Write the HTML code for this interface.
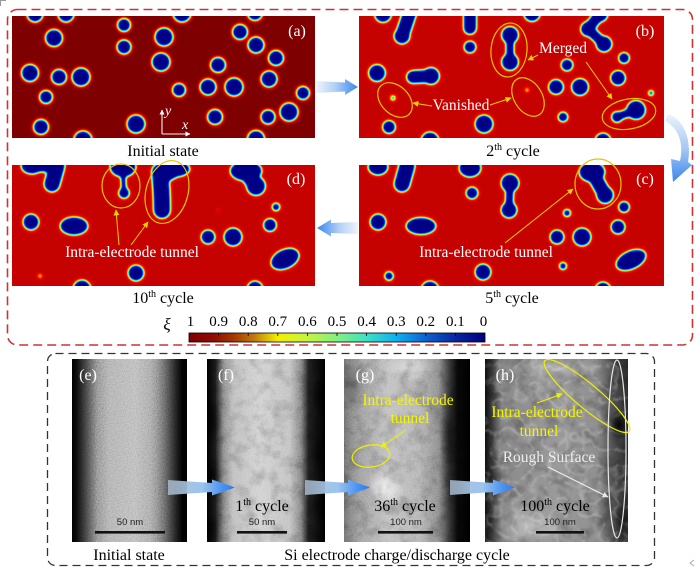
<!DOCTYPE html>
<html><head><meta charset="utf-8"><style>
html,body{margin:0;padding:0;background:#fff;}
svg{display:block;}
text{font-family:"Liberation Serif","DejaVu Serif",serif;}
</style></head><body>
<svg xmlns="http://www.w3.org/2000/svg" width="700" height="580" viewBox="0 0 700 580">
<defs>
<filter id="jetA" color-interpolation-filters="sRGB" x="-5%" y="-5%" width="110%" height="110%">
<feGaussianBlur stdDeviation="1.9"/>
<feComponentTransfer>
<feFuncR type="table" tableValues="0 0 0 0 0 0.45 1 1 1 0.8 0.5"/>
<feFuncG type="table" tableValues="0 0 0.05 0.45 0.9 1 0.95 0.55 0.12 0 0"/>
<feFuncB type="table" tableValues="0.52 0.58 0.8 1 1 0.5 0 0 0 0 0"/>
</feComponentTransfer>
</filter>
<filter id="jetB" color-interpolation-filters="sRGB" x="-5%" y="-5%" width="110%" height="110%">
<feGaussianBlur stdDeviation="1.9"/>
<feComponentTransfer>
<feFuncR type="table" tableValues="0 0 0 0 0 0.45 1 1 1 0.9 0.78"/>
<feFuncG type="table" tableValues="0 0 0.05 0.45 0.9 1 0.95 0.55 0.12 0.02 0.01"/>
<feFuncB type="table" tableValues="0.52 0.58 0.8 1 1 0.5 0 0 0 0 0"/>
</feComponentTransfer>
</filter>
<clipPath id="cpA"><rect x="12" y="16" width="303" height="122"/></clipPath>
<clipPath id="cpB"><rect x="359" y="16" width="305" height="122"/></clipPath>
<clipPath id="cpD"><rect x="12" y="165" width="303" height="121"/></clipPath>
<clipPath id="cpC"><rect x="359" y="165" width="305" height="121"/></clipPath>
<clipPath id="cpE"><rect x="72" y="359" width="115" height="183"/></clipPath>
<clipPath id="cpF"><rect x="207" y="359" width="118" height="183"/></clipPath>
<clipPath id="cpG"><rect x="344" y="359" width="126" height="183"/></clipPath>
<clipPath id="cpH"><rect x="485" y="359" width="143" height="183"/></clipPath>

<linearGradient id="cbar" x1="0" y1="0" x2="1" y2="0">
<stop offset="0" stop-color="#7f0000"/>
<stop offset="0.08" stop-color="#8e0c00"/>
<stop offset="0.15" stop-color="#a43800"/>
<stop offset="0.22" stop-color="#c07a10"/>
<stop offset="0.3" stop-color="#f2f000"/>
<stop offset="0.4" stop-color="#c4f440"/>
<stop offset="0.5" stop-color="#84f080"/>
<stop offset="0.6" stop-color="#40e0c0"/>
<stop offset="0.7" stop-color="#10b0f0"/>
<stop offset="0.8" stop-color="#1060d0"/>
<stop offset="0.9" stop-color="#0828a0"/>
<stop offset="1" stop-color="#000080"/>
</linearGradient>
<linearGradient id="arR" x1="0" y1="0" x2="1" y2="0">
<stop offset="0" stop-color="#eef4fc"/>
<stop offset="0.45" stop-color="#b4d0f4"/>
<stop offset="0.75" stop-color="#6ea8f2"/>
<stop offset="1" stop-color="#3a86ee"/>
</linearGradient>
<linearGradient id="arL" x1="1" y1="0" x2="0" y2="0">
<stop offset="0" stop-color="#eef4fc"/>
<stop offset="0.45" stop-color="#b4d0f4"/>
<stop offset="0.75" stop-color="#6ea8f2"/>
<stop offset="1" stop-color="#3a86ee"/>
</linearGradient>
<linearGradient id="arD" x1="0" y1="0" x2="0" y2="1">
<stop offset="0" stop-color="#eef4fc"/>
<stop offset="0.5" stop-color="#a8c8f2"/>
<stop offset="1" stop-color="#3a86ee"/>
</linearGradient>
<linearGradient id="arT" x1="0" y1="0" x2="1" y2="0">
<stop offset="0" stop-color="#a8b8c8" stop-opacity="0.85"/>
<stop offset="0.5" stop-color="#9cc4f0"/>
<stop offset="0.8" stop-color="#4c94f2"/>
<stop offset="1" stop-color="#2a78f0"/>
</linearGradient>

<linearGradient id="gE" x1="0" y1="0" x2="1" y2="0">
<stop offset="0" stop-color="#000"/>
<stop offset="0.04" stop-color="#0a0a0a"/>
<stop offset="0.12" stop-color="#3c3c3c"/>
<stop offset="0.22" stop-color="#808080"/>
<stop offset="0.32" stop-color="#a4a4a4"/>
<stop offset="0.55" stop-color="#b0b0b0"/>
<stop offset="0.68" stop-color="#9c9c9c"/>
<stop offset="0.8" stop-color="#606060"/>
<stop offset="0.9" stop-color="#202020"/>
<stop offset="0.96" stop-color="#000"/>
</linearGradient>
<linearGradient id="gF" x1="0" y1="0" x2="1" y2="0">
<stop offset="0" stop-color="#000"/>
<stop offset="0.07" stop-color="#181818"/>
<stop offset="0.14" stop-color="#808080"/>
<stop offset="0.22" stop-color="#b8b8b8"/>
<stop offset="0.45" stop-color="#cccccc"/>
<stop offset="0.7" stop-color="#bcbcbc"/>
<stop offset="0.8" stop-color="#787878"/>
<stop offset="0.86" stop-color="#1c1c1c"/>
<stop offset="1" stop-color="#000"/>
</linearGradient>
<linearGradient id="gG" x1="0" y1="0" x2="1" y2="0">
<stop offset="0" stop-color="#6a6a6a"/>
<stop offset="0.12" stop-color="#989898"/>
<stop offset="0.35" stop-color="#bcbcbc"/>
<stop offset="0.6" stop-color="#b0b0b0"/>
<stop offset="0.75" stop-color="#848484"/>
<stop offset="0.84" stop-color="#303030"/>
<stop offset="0.9" stop-color="#080808"/>
<stop offset="1" stop-color="#000"/>
</linearGradient>
<linearGradient id="gH" x1="0" y1="0" x2="1" y2="0">
<stop offset="0" stop-color="#101010"/>
<stop offset="0.05" stop-color="#3a3a3a"/>
<stop offset="0.12" stop-color="#8a8a8a"/>
<stop offset="0.5" stop-color="#9a9a9a"/>
<stop offset="0.78" stop-color="#909090"/>
<stop offset="0.86" stop-color="#606060"/>
<stop offset="0.93" stop-color="#444444"/>
<stop offset="1" stop-color="#2e2e2e"/>
</linearGradient>
<radialGradient id="wh" cx="0.5" cy="0.5" r="0.5">
<stop offset="0" stop-color="#fff" stop-opacity="0.95"/>
<stop offset="1" stop-color="#fff" stop-opacity="0"/>
</radialGradient>
<radialGradient id="bk" cx="0.5" cy="0.5" r="0.5">
<stop offset="0" stop-color="#000" stop-opacity="0.9"/>
<stop offset="1" stop-color="#000" stop-opacity="0"/>
</radialGradient>

<filter id="grain" x="0" y="0" width="100%" height="100%">
<feTurbulence type="fractalNoise" baseFrequency="0.85" numOctaves="1" seed="3"/>
<feColorMatrix type="matrix" values="1 0 0 0 0  1 0 0 0 0  1 0 0 0 0  0 0 0 0 1"/>
</filter>
<filter id="mottle" x="0" y="0" width="100%" height="100%">
<feTurbulence type="fractalNoise" baseFrequency="0.07" numOctaves="3" seed="7"/>
<feColorMatrix type="matrix" values="0 0 0 0 0  0 0 0 0 0  0 0 0 0 0  2.4 0 0 0 -1.05"/>
</filter>
<filter id="veins" x="0" y="0" width="100%" height="100%">
<feTurbulence type="turbulence" baseFrequency="0.06" numOctaves="2" seed="11"/>
<feColorMatrix type="matrix" values="0 0 0 0 1  0 0 0 0 1  0 0 0 0 1  -3 0 0 0 0.75"/>
</filter>

<marker id="my" viewBox="0 0 10 10" refX="9" refY="5" markerWidth="6" markerHeight="6" orient="auto" markerUnits="userSpaceOnUse"><path d="M0,0 L10,5 L0,10 z" fill="#f0d000"/></marker>
<marker id="myy" viewBox="0 0 10 10" refX="9" refY="5" markerWidth="6" markerHeight="6" orient="auto" markerUnits="userSpaceOnUse"><path d="M0,0 L10,5 L0,10 z" fill="#f0f000"/></marker>
<marker id="mw" viewBox="0 0 10 10" refX="9" refY="5" markerWidth="6" markerHeight="6" orient="auto" markerUnits="userSpaceOnUse"><path d="M0,0 L10,5 L0,10 z" fill="#e8e8e8"/></marker>
<marker id="mwa" viewBox="0 0 10 10" refX="9" refY="5" markerWidth="5" markerHeight="5" orient="auto" markerUnits="userSpaceOnUse"><path d="M0,0 L10,5 L0,10 z" fill="#fff"/></marker>
</defs>

<!-- corner marks -->
<path d="M0.5 6 V0.5 H6" fill="none" stroke="#999" stroke-width="1"/>
<path d="M694 560 l-4 3 l4 3" fill="none" stroke="#aaa" stroke-width="1"/>

<!-- red dashed frame -->
<rect x="7.5" y="9.5" width="685" height="335.5" rx="10" fill="none" stroke="#cc3333" stroke-width="1.6" stroke-dasharray="9 5"/>

<!-- Panel (a) -->
<g clip-path="url(#cpA)">
<g filter="url(#jetA)">
<rect x="2" y="6" width="324" height="142" fill="#fff"/>
<g fill="#000">
<circle cx="35" cy="14" r="8"/><circle cx="66" cy="14" r="8"/><circle cx="54" cy="38" r="8.5"/>
<circle cx="124" cy="25" r="6.5"/><circle cx="124" cy="47" r="7"/><circle cx="164" cy="37" r="9"/>
<circle cx="182" cy="13" r="9"/><circle cx="161" cy="62" r="9"/><circle cx="240" cy="32" r="7.5"/>
<circle cx="255" cy="13" r="7.5"/><circle cx="256" cy="45" r="8"/><circle cx="276" cy="58" r="7.5"/>
<circle cx="30" cy="73" r="8.5"/><circle cx="59" cy="77" r="7.5"/><circle cx="81" cy="77" r="9"/>
<circle cx="46" cy="97" r="6.5"/><circle cx="179" cy="90" r="6.5"/><circle cx="218" cy="65" r="7.5"/>
<circle cx="208" cy="87" r="8"/><circle cx="234" cy="87" r="9"/><circle cx="269" cy="79" r="8"/>
<circle cx="303" cy="93" r="6.5"/><circle cx="289" cy="112" r="9"/><circle cx="268" cy="117" r="7"/>
<circle cx="215" cy="117" r="7.5"/><circle cx="136" cy="124" r="9"/><circle cx="41" cy="127" r="7.5"/>
<circle cx="83" cy="140" r="9"/><circle cx="256" cy="139" r="8.5"/>
</g>
</g>
</g>
<g stroke="#f4f4f4" stroke-width="1.1" fill="none">
<line x1="162" y1="134" x2="162" y2="110" marker-end="url(#mwa)"/>
<line x1="162" y1="134" x2="190" y2="134" marker-end="url(#mwa)"/>
</g>
<text x="165" y="115" font-size="14" font-style="italic" fill="#fff">y</text>
<text x="182" y="129" font-size="14" font-style="italic" fill="#fff">x</text>
<text x="297" y="36" font-size="16" fill="#fff" text-anchor="middle">(a)</text>
<text x="163" y="156" font-size="16" fill="#000" text-anchor="middle">Initial state</text>

<!-- Panel (b) -->
<g clip-path="url(#cpB)">
<g filter="url(#jetB)">
<rect x="349" y="6" width="326" height="142" fill="#fff"/>
<g fill="#000" stroke="#000" stroke-linecap="round">
<circle cx="383" cy="14" r="8.5" stroke="none"/>
<line x1="410" y1="12" x2="402" y2="36" stroke-width="14"/><circle cx="402" cy="36" r="8" stroke="none"/>
<line x1="470" y1="10" x2="470" y2="28" stroke-width="13"/>
<circle cx="470" cy="47" r="6" stroke="none"/>
<circle cx="510" cy="35" r="8.5" stroke="none"/><circle cx="510" cy="62" r="8.5" stroke="none"/>
<line x1="510" y1="35" x2="510" y2="62" stroke-width="8"/>
<circle cx="532" cy="13" r="8.5" stroke="none"/>
<circle cx="600" cy="14" r="8" stroke="none"/><circle cx="588" cy="29" r="7.5" stroke="none"/><circle cx="604" cy="44" r="8" stroke="none"/>
<line x1="600" y1="14" x2="588" y2="29" stroke-width="11"/><line x1="588" y1="29" x2="604" y2="44" stroke-width="10"/>
<circle cx="567" cy="65" r="6" stroke="none"/>
<circle cx="624" cy="58" r="5.5" stroke="none"/>
<circle cx="377" cy="73" r="8.5" stroke="none"/>
<line x1="413" y1="77" x2="431" y2="76" stroke-width="13"/><circle cx="431" cy="76" r="8.5" stroke="none"/>
<circle cx="556" cy="87" r="7.5" stroke="none"/><circle cx="580" cy="87" r="8.5" stroke="none"/>
<circle cx="618" cy="78" r="7.5" stroke="none"/>
<circle cx="651" cy="93" r="2.8" stroke="none"/>
<circle cx="617" cy="117" r="5.5" stroke="none"/><circle cx="636" cy="110" r="9.5" stroke="none"/>
<line x1="617" y1="117" x2="636" y2="110" stroke-width="8"/>
<circle cx="563" cy="117" r="5" stroke="none"/>
<circle cx="389" cy="127" r="6.5" stroke="none"/>
<circle cx="484" cy="124" r="9" stroke="none"/>
<circle cx="430" cy="141" r="9" stroke="none"/>
<circle cx="603" cy="141" r="8" stroke="none"/>
<circle cx="393" cy="98" r="2.4" stroke="none"/>
<circle cx="527" cy="90" r="1.6" stroke="none"/>
</g>
</g>
</g>
<g fill="none" stroke="#e8c400" stroke-width="1.2">
<ellipse cx="509" cy="50" rx="18" ry="27" transform="rotate(5 509 50)"/>
<ellipse cx="395" cy="100" rx="20" ry="14" transform="rotate(45 395 100)"/>
<ellipse cx="528" cy="97" rx="21" ry="14" transform="rotate(58 528 97)"/>
<ellipse cx="629" cy="114" rx="27" ry="15" transform="rotate(-10 629 114)"/>
</g>
<g stroke="#f0d000" stroke-width="1" fill="none">
<line x1="538" y1="55" x2="528" y2="60" marker-end="url(#my)"/>
<line x1="586" y1="62" x2="612" y2="99" marker-end="url(#my)"/>
<line x1="432" y1="106" x2="413" y2="103" marker-end="url(#my)"/>
<line x1="490" y1="105" x2="511" y2="98" marker-end="url(#my)"/>
</g>
<text x="563" y="53" font-size="15.5" fill="#fff" text-anchor="middle">Merged</text>
<text x="461" y="110" font-size="15.5" fill="#fff" text-anchor="middle">Vanished</text>
<text x="645" y="36" font-size="16" fill="#fff" text-anchor="middle">(b)</text>
<text x="513" y="156" font-size="16" fill="#000" text-anchor="middle">2<tspan font-size="10" dy="-6">th</tspan><tspan dy="6"> cycle</tspan></text>

<!-- Panel (d) -->
<g clip-path="url(#cpD)">
<g filter="url(#jetB)">
<rect x="2" y="155" width="324" height="142" fill="#fff"/>
<g fill="#000" stroke="#000" stroke-linecap="round">
<ellipse cx="32" cy="166" rx="11" ry="8" stroke="none"/>
<line x1="57" y1="166" x2="52" y2="184" stroke-width="16"/>
<line x1="32" y1="166" x2="57" y2="166" stroke-width="12"/>
<ellipse cx="123" cy="167" rx="13" ry="10" stroke="none"/>
<circle cx="124" cy="193" r="5.5" stroke="none"/>
<line x1="123" y1="172" x2="124" y2="192" stroke-width="5"/>
<ellipse cx="175" cy="169" rx="15" ry="8" stroke="none"/>
<path d="M160 172 Q162 192 162 210" stroke-width="17" fill="none"/>
<line x1="172" y1="172" x2="160" y2="178" stroke-width="14"/>
<ellipse cx="246" cy="171" rx="16" ry="10" stroke="none"/>
<circle cx="256" cy="186" r="9.5" stroke="none"/>
<line x1="246" y1="171" x2="256" y2="186" stroke-width="16"/>
<circle cx="276" cy="207" r="4" stroke="none"/>
<circle cx="270" cy="225" r="6.5" stroke="none"/>
<circle cx="31" cy="222" r="8" stroke="none"/>
<ellipse cx="74" cy="226" rx="14" ry="9" stroke="none"/>
<circle cx="208" cy="237" r="7" stroke="none"/><circle cx="233" cy="237" r="9" stroke="none"/>
<ellipse cx="285" cy="259" rx="15" ry="9.5" transform="rotate(-25 285 259)" stroke="none"/>
<circle cx="136" cy="273" r="8" stroke="none"/>
<circle cx="40" cy="276" r="1.6" stroke="none"/>
<circle cx="82" cy="289" r="9" stroke="none"/>
<circle cx="255" cy="289" r="8" stroke="none"/>
<circle cx="218" cy="210" r="0.8" stroke="none"/>
</g>
</g>
</g>
<g fill="none" stroke="#e8c400" stroke-width="1.2">
<ellipse cx="121" cy="186" rx="19" ry="22"/>
<ellipse cx="167" cy="192" rx="21" ry="32" transform="rotate(15 167 192)"/>
</g>
<g stroke="#f0d000" stroke-width="1" fill="none">
<line x1="119" y1="245" x2="116" y2="210" marker-end="url(#my)"/>
<line x1="131" y1="245" x2="148" y2="222" marker-end="url(#my)"/>
</g>
<text x="132" y="257" font-size="15.5" fill="#fff" text-anchor="middle">Intra-electrode tunnel</text>
<text x="296" y="184" font-size="16" fill="#fff" text-anchor="middle">(d)</text>
<text x="163" y="303" font-size="16" fill="#000" text-anchor="middle">10<tspan font-size="10" dy="-6">th</tspan><tspan dy="6"> cycle</tspan></text>

<!-- Panel (c) -->
<g clip-path="url(#cpC)">
<g filter="url(#jetB)">
<rect x="349" y="155" width="326" height="142" fill="#fff"/>
<g fill="#000" stroke="#000" stroke-linecap="round">
<ellipse cx="378" cy="167" rx="10" ry="8" stroke="none"/>
<line x1="407" y1="166" x2="402" y2="184" stroke-width="16"/>
<ellipse cx="470" cy="168" rx="11" ry="9" stroke="none"/>
<circle cx="472" cy="193" r="6" stroke="none"/>
<circle cx="510" cy="183" r="9" stroke="none"/><circle cx="509" cy="210" r="8" stroke="none"/>
<line x1="510" y1="183" x2="509" y2="210" stroke-width="8"/>
<ellipse cx="592" cy="172" rx="13" ry="10" stroke="none"/>
<circle cx="605" cy="195" r="8.5" stroke="none"/>
<line x1="592" y1="172" x2="605" y2="195" stroke-width="14"/>
<circle cx="567" cy="213" r="3.8" stroke="none"/>
<circle cx="624" cy="207" r="5.5" stroke="none"/>
<circle cx="618" cy="227" r="7" stroke="none"/>
<circle cx="378" cy="222" r="8" stroke="none"/>
<ellipse cx="421" cy="226" rx="15" ry="8.5" stroke="none"/>
<circle cx="557" cy="237" r="7" stroke="none"/><circle cx="582" cy="237" r="9" stroke="none"/>
<ellipse cx="631" cy="260" rx="16" ry="9" transform="rotate(-25 631 260)" stroke="none"/>
<circle cx="563" cy="266" r="3.8" stroke="none"/>
<circle cx="483" cy="272" r="8" stroke="none"/>
<circle cx="389" cy="276" r="4.5" stroke="none"/>
<circle cx="430" cy="290" r="9" stroke="none"/>
<circle cx="603" cy="290" r="8" stroke="none"/>
</g>
</g>
</g>
<ellipse cx="598" cy="184" rx="23" ry="25" fill="none" stroke="#e8c400" stroke-width="1.2"/>
<line x1="505" y1="243" x2="573" y2="189" stroke="#f0d000" stroke-width="1" marker-end="url(#my)"/>
<text x="486" y="257" font-size="15.5" fill="#fff" text-anchor="middle">Intra-electrode tunnel</text>
<text x="645" y="184" font-size="16" fill="#fff" text-anchor="middle">(c)</text>
<text x="512" y="303" font-size="16" fill="#000" text-anchor="middle">5<tspan font-size="10" dy="-6">th</tspan><tspan dy="6"> cycle</tspan></text>

<!-- top arrows -->
<polygon points="316,81 345,82.5 345,79 358,87 345,95 345,91.5 316,93" fill="url(#arR)"/>
<polygon points="358,222 331,223 331,219.5 317,228 331,236.5 331,233 358,234" fill="url(#arL)"/>
<path d="M668 114 C683 119, 692 138, 688 162 L692 165 L673 182 L671 159 L680 161 C684 142, 678 128, 665 121 Z" fill="url(#arD)"/>

<!-- colorbar -->
<text x="167" y="330" font-size="17" font-style="italic" fill="#000" text-anchor="middle">ξ</text>
<rect x="189" y="333" width="296" height="9" fill="url(#cbar)" stroke="#000" stroke-width="0.8"/>
<g stroke="#000" stroke-width="0.8">
<line x1="218.6" y1="333" x2="218.6" y2="336"/><line x1="248.2" y1="333" x2="248.2" y2="336"/>
<line x1="277.8" y1="333" x2="277.8" y2="336"/><line x1="307.4" y1="333" x2="307.4" y2="336"/>
<line x1="337" y1="333" x2="337" y2="336"/><line x1="366.6" y1="333" x2="366.6" y2="336"/>
<line x1="396.2" y1="333" x2="396.2" y2="336"/><line x1="425.8" y1="333" x2="425.8" y2="336"/>
<line x1="455.4" y1="333" x2="455.4" y2="336"/>
</g>
<g font-size="15" fill="#000" text-anchor="middle">
<text x="190.5" y="326">1</text><text x="218.6" y="326">0.9</text><text x="248.2" y="326">0.8</text>
<text x="277.8" y="326">0.7</text><text x="307.4" y="326">0.6</text><text x="337" y="326">0.5</text>
<text x="366.6" y="326">0.4</text><text x="396.2" y="326">0.3</text><text x="425.8" y="326">0.2</text>
<text x="455.4" y="326">0.1</text><text x="483.5" y="326">0</text>
</g>

<!-- black dashed frame -->
<rect x="47.5" y="353.5" width="607" height="212" rx="8" fill="none" stroke="#333" stroke-width="1.3" stroke-dasharray="8 5"/>

<!-- TEM (e) -->
<g clip-path="url(#cpE)">
<rect x="72" y="359" width="115" height="183" fill="url(#gE)"/>
<rect x="72" y="359" width="115" height="183" filter="url(#grain)" opacity="0.5" style="mix-blend-mode:overlay"/>
</g>
<!-- TEM (f) -->
<g clip-path="url(#cpF)">
<rect x="207" y="359" width="118" height="183" fill="url(#gF)"/>
<g fill="url(#bk)" opacity="0.7">
<ellipse cx="210" cy="420" rx="12" ry="20"/><ellipse cx="211" cy="475" rx="10" ry="18"/><ellipse cx="209" cy="530" rx="11" ry="16"/>
<ellipse cx="322" cy="395" rx="10" ry="22"/><ellipse cx="320" cy="455" rx="9" ry="18"/><ellipse cx="323" cy="510" rx="10" ry="20"/>
</g>
<rect x="207" y="359" width="118" height="183" filter="url(#mottle)" opacity="0.22"/>
<rect x="207" y="359" width="118" height="183" filter="url(#grain)" opacity="0.35" style="mix-blend-mode:overlay"/>
</g>
<!-- TEM (g) -->
<g clip-path="url(#cpG)">
<rect x="344" y="359" width="126" height="183" fill="url(#gG)"/>
<ellipse cx="410" cy="368" rx="25" ry="14" fill="url(#wh)" opacity="0.5"/>
<ellipse cx="385" cy="488" rx="20" ry="18" fill="url(#wh)" opacity="0.85"/>
<ellipse cx="355" cy="385" rx="14" ry="30" fill="url(#bk)" opacity="0.3"/>
<ellipse cx="450" cy="440" rx="10" ry="60" fill="url(#bk)" opacity="0.5"/>
<rect x="344" y="359" width="126" height="183" filter="url(#mottle)" opacity="0.25"/>
<rect x="344" y="359" width="126" height="183" filter="url(#grain)" opacity="0.3" style="mix-blend-mode:overlay"/>
</g>
<!-- TEM (h) -->
<g clip-path="url(#cpH)">
<rect x="485" y="359" width="143" height="183" fill="url(#gH)"/>
<rect x="485" y="359" width="143" height="183" filter="url(#mottle)" opacity="0.25"/>
<rect x="485" y="359" width="143" height="183" filter="url(#veins)" opacity="0.3"/>
<ellipse cx="560" cy="368" rx="40" ry="10" fill="url(#wh)" opacity="0.3"/>
<ellipse cx="530" cy="525" rx="35" ry="20" fill="url(#wh)" opacity="0.45"/>
<ellipse cx="619" cy="425" rx="10" ry="16" fill="url(#bk)"/>
<ellipse cx="622" cy="520" rx="9" ry="22" fill="url(#bk)" opacity="0.6"/>
</g>

<!-- TEM labels -->
<g font-size="16" fill="#fff" text-anchor="middle">
<text x="88" y="380">(e)</text><text x="226" y="380">(f)</text>
<text x="365" y="380">(g)</text><text x="505" y="380">(h)</text>
</g>
<!-- scale bars -->
<g fill="#111">
<rect x="95" y="531" width="70" height="2.6"/>
<rect x="237" y="531" width="50" height="2.6"/>
<rect x="378" y="531" width="55" height="2.6"/>
<rect x="536" y="531" width="48" height="2.6"/>
</g>
<g font-size="9.5" fill="#222" text-anchor="middle" style="font-family:'Liberation Sans',Arial,sans-serif">
<text x="130" y="525" style="font-family:'Liberation Sans',sans-serif">50 nm</text>
<text x="262" y="525" style="font-family:'Liberation Sans',sans-serif">50 nm</text>
<text x="406" y="525" style="font-family:'Liberation Sans',sans-serif">100 nm</text>
<text x="560" y="525" style="font-family:'Liberation Sans',sans-serif">100 nm</text>
</g>

<!-- bottom arrows -->
<polygon points="168,480 212,483 212,479.5 235,487.5 212,495.5 212,492 168,495" fill="url(#arT)"/>
<polygon points="305,480 348,483 348,479.5 370,487.5 348,495.5 348,492 305,495" fill="url(#arT)"/>
<polygon points="450,480 493,483 493,479.5 515,487.5 493,495.5 493,492 450,495" fill="url(#arT)"/>

<!-- cycle labels in TEM -->
<g font-size="16" fill="#000" text-anchor="middle">
<text x="262" y="511">1<tspan font-size="10" dy="-6">th</tspan><tspan dy="6"> cycle</tspan></text>
<text x="405" y="511">36<tspan font-size="10" dy="-6">th</tspan><tspan dy="6"> cycle</tspan></text>
<text x="555" y="511">100<tspan font-size="10" dy="-6">th</tspan><tspan dy="6"> cycle</tspan></text>
</g>

<!-- annotations (g),(h) -->
<g font-size="15.5" fill="#f5f500" text-anchor="middle">
<text x="408" y="405">Intra-electrode</text>
<text x="410" y="423">tunnel</text>
<text x="537" y="417">Intra-electrode</text>
<text x="539" y="436">tunnel</text>
</g>
<ellipse cx="371" cy="456" rx="19" ry="11" transform="rotate(-8 371 456)" fill="none" stroke="#f0f000" stroke-width="1.2"/>
<line x1="406" y1="430" x2="381" y2="447" stroke="#f0f000" stroke-width="1" marker-end="url(#myy)"/>
<ellipse cx="587" cy="396" rx="55" ry="12" transform="rotate(40 587 396)" fill="none" stroke="#f0f000" stroke-width="1.2"/>
<line x1="537" y1="403" x2="562" y2="394" stroke="#f0f000" stroke-width="1" marker-end="url(#myy)"/>
<ellipse cx="617" cy="449" rx="9" ry="89" fill="none" stroke="#e6e6e6" stroke-width="1.2"/>
<text x="549" y="462" font-size="15.5" fill="#eeeeee" text-anchor="middle">Rough Surface</text>
<line x1="548" y1="467" x2="608" y2="497" stroke="#eeeeee" stroke-width="1" marker-end="url(#mw)"/>

<!-- bottom captions -->
<text x="129" y="560" font-size="16" fill="#000" text-anchor="middle">Initial state</text>
<text x="397" y="560" font-size="16" fill="#000" text-anchor="middle">Si electrode charge/discharge cycle</text>
</svg>
</body></html>
